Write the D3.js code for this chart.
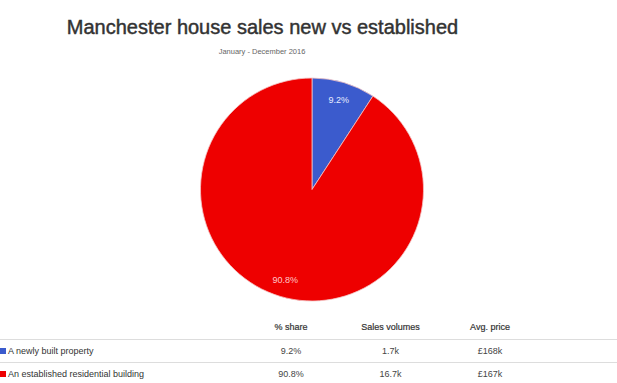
<!DOCTYPE html>
<html><head><meta charset="utf-8">
<script src="https://cdn.jsdelivr.net/npm/d3@7/dist/d3.min.js"></script>
<style>body{margin:0;background:#fff;} svg{display:block;font-family:"Liberation Sans",Arial,Helvetica,sans-serif;}</style>
</head><body>
<svg id="chart" width="617" height="383"></svg>
<script>
const categories = ["A newly built property", "An established residential building"];
const shares = [9.2, 90.8];
const shareLabels = ["9.2%", "90.8%"];
const volumes = ["1.7k", "16.7k"];
const prices = ["£168k", "£167k"];
const columns = ["% share", "Sales volumes", "Avg. price"];
const colors = ["#3b5bcd", "#ee0000"];
const title = "Manchester house sales new vs established";
const subtitle = "January - December 2016";

const svg = d3.select("#chart");
const W = 617;

svg.append("text").attr("x", 262.5).attr("y", 34).attr("text-anchor", "middle")
  .attr("font-size", 20).attr("fill", "#333").attr("stroke", "#333").attr("stroke-width", 0.45)
  .text(title);
svg.append("text").attr("x", 262).attr("y", 54).attr("text-anchor", "middle")
  .attr("font-size", 7.5).attr("fill", "#666").text(subtitle);

const cx = 312, cy = 189.5, r = 111.5;
const pie = d3.pie().sort(null).value(d => d);
const arcs = pie(shares);
const arc = d3.arc().innerRadius(0).outerRadius(r);
const labelArc = d3.arc().innerRadius(94).outerRadius(94);
const g = svg.append("g").attr("transform", `translate(${cx},${cy})`);
g.selectAll("path").data(arcs).join("path")
  .attr("d", arc).attr("fill", (d, i) => colors[i])
  .attr("stroke", "#f4c4c4").attr("stroke-width", 0.8);
g.selectAll("text").data(arcs).join("text")
  .attr("transform", d => `translate(${labelArc.centroid(d)})`)
  .attr("text-anchor", "middle").attr("dy", "0.35em")
  .attr("font-size", 9).attr("fill", (d, i) => i === 0 ? "#e8ecff" : "#ffc8c8")
  .text((d, i) => shareLabels[i]);

// table
const colX = d3.scalePoint().domain(columns).range([291, 490]);
const headerY = 327;
svg.selectAll(".hdr").data(columns).join("text").attr("class", "hdr")
  .attr("x", d => colX(d)).attr("y", headerY).attr("dy", "0.35em")
  .attr("text-anchor", "middle").attr("font-size", 9).attr("fill", "#333")
  .attr("stroke", "#333").attr("stroke-width", 0.2).text(d => d);

const rowY = d3.scalePoint().domain(categories).range([351, 374]);
const lineY = [339.5, 362.5];
svg.selectAll(".sep").data(lineY).join("line").attr("class", "sep")
  .attr("x1", 0).attr("x2", W).attr("y1", d => d).attr("y2", d => d)
  .attr("stroke", "#ddd").attr("stroke-width", 1);

const rows = svg.selectAll(".row").data(categories).join("g").attr("class", "row")
  .attr("transform", d => `translate(0,${rowY(d)})`);
rows.append("rect").attr("x", 0).attr("y", -3).attr("width", 6).attr("height", 6)
  .attr("fill", (d, i) => colors[i]);
rows.append("text").attr("x", 8).attr("dy", "0.35em").attr("font-size", 9)
  .attr("fill", "#333").text(d => d);
const cells = [shareLabels, volumes, prices];
columns.forEach((c, j) => {
  rows.append("text").attr("x", colX(c)).attr("dy", "0.35em").attr("text-anchor", "middle")
    .attr("font-size", 9).attr("fill", "#444").text((d, i) => cells[j][i]);
});
</script>
</body></html>
